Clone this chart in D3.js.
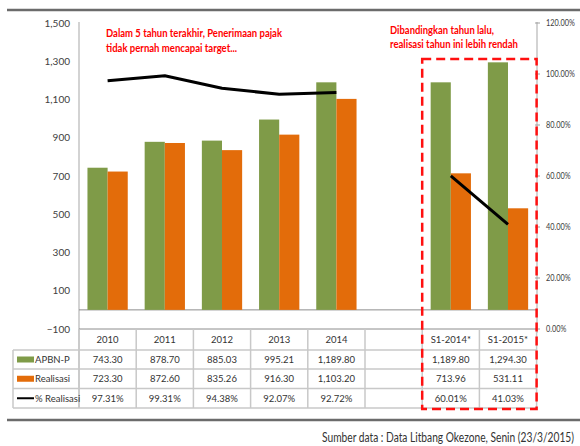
<!DOCTYPE html>
<html>
<head>
<meta charset="utf-8">
<script src="https://cdn.jsdelivr.net/npm/d3@7"></script>
<style>
  body { margin: 0; background: #fff; }
  svg { display: block; font-family: Lato, "Open Sans", sans-serif; }
</style>
</head>
<body>
<div id="chart"></div>
<script>
// data
const categories = ["2010", "2011", "2012", "2013", "2014", "", "S1-2014*", "S1-2015*"];
const apbnp = [743.30, 878.70, 885.03, 995.21, 1189.80, null, 1189.80, 1294.30];
const realisasi = [723.30, 872.60, 835.26, 916.30, 1103.20, null, 713.96, 531.11];
const pctRealisasi = [97.31, 99.31, 94.38, 92.07, 92.72, null, 60.01, 41.03];
const leftTicks = [-100, 100, 300, 500, 700, 900, 1100, 1300, 1500];
const rightTicks = [0, 20, 40, 60, 80, 100, 120];

const width = 580, height = 446;
const green = "#7f9b48", orange = "#e36c0a";

const svg = d3.select("#chart").append("svg")
  .attr("width", width)
  .attr("height", height);

const x = d3.scaleBand()
  .domain(d3.range(categories.length))
  .range([79, 536.6]);

const xSeries = d3.scaleBand()
  .domain(["apbnp", "realisasi"])
  .range([0, x.bandwidth()])
  .paddingOuter(0.42);

const yLeft = d3.scaleLinear().domain([-100, 1500]).range([329, 23]);
const yRight = d3.scaleLinear().domain([0, 120]).range([329, 23]);

const fmt2 = d3.format(",.2f");

// top rule
svg.append("line")
  .attr("x1", 7).attr("x2", width).attr("y1", 10).attr("y2", 10)
  .attr("stroke", "#6b6b6b").attr("stroke-width", 2.5);

// left axis
svg.append("line")
  .attr("x1", 79).attr("x2", 79).attr("y1", 22).attr("y2", 408)
  .attr("stroke", "#c4c4c4").attr("stroke-width", 1.5);

svg.append("g").selectAll("text")
  .data(leftTicks)
  .join("text")
  .attr("x", 70)
  .attr("y", d => yLeft(d))
  .attr("dy", "0.35em")
  .attr("text-anchor", "end")
  .attr("font-size", 10)
  .attr("fill", "#404040")
  .text(d => d3.format(",")(d));

// right axis
svg.append("line")
  .attr("x1", 537).attr("x2", 537).attr("y1", 22).attr("y2", 333)
  .attr("stroke", "#c4c4c4").attr("stroke-width", 1.5);

const rAxis = svg.append("g").selectAll("g")
  .data(rightTicks)
  .join("g")
  .attr("transform", d => `translate(537,${yRight(d)})`);
rAxis.append("line").attr("x1", -2).attr("x2", 3)
  .attr("stroke", "#a0a0a0").attr("stroke-width", 1);
rAxis.append("text")
  .attr("x", 9).attr("dy", "0.35em")
  .attr("font-size", 9.5)
  .attr("fill", "#404040")
  .attr("textLength", d => String(d).length * 4.3 + 16)
  .attr("lengthAdjust", "spacingAndGlyphs")
  .text(d => d.toFixed(2) + "%");

// zero line
svg.append("line")
  .attr("x1", 79).attr("x2", 537)
  .attr("y1", yLeft(0)).attr("y2", yLeft(0))
  .attr("stroke", "#8c8c8c").attr("stroke-width", 1);

// bars
const groups = svg.append("g").selectAll("g")
  .data(categories.map((c, i) => i).filter(i => apbnp[i] != null))
  .join("g")
  .attr("transform", i => `translate(${x(i)},0)`);

groups.append("rect")
  .attr("x", xSeries("apbnp"))
  .attr("width", xSeries.bandwidth())
  .attr("y", i => yLeft(apbnp[i]))
  .attr("height", i => yLeft(0) - yLeft(apbnp[i]))
  .attr("fill", green);

groups.append("rect")
  .attr("x", xSeries("realisasi"))
  .attr("width", xSeries.bandwidth())
  .attr("y", i => yLeft(realisasi[i]))
  .attr("height", i => yLeft(0) - yLeft(realisasi[i]))
  .attr("fill", orange);

// % realisasi line, broken at the empty slot
const line = d3.line()
  .defined(i => pctRealisasi[i] != null)
  .x(i => x(i) + x.bandwidth() / 2)
  .y(i => yRight(pctRealisasi[i]));

svg.append("path")
  .datum(d3.range(categories.length))
  .attr("d", line)
  .attr("fill", "none")
  .attr("stroke", "#000")
  .attr("stroke-width", 3)
  .attr("stroke-linejoin", "round");

// data table
const rowTops = [329, 350, 369, 388.5, 408];
const table = svg.append("g");
const border = "#c8c8c8";

// horizontal rules
table.append("line")
  .attr("x1", 79).attr("x2", 537).attr("y1", rowTops[0]).attr("y2", rowTops[0])
  .attr("stroke", "#8c8c8c").attr("stroke-width", 1);
rowTops.slice(1).forEach(y => {
  table.append("line")
    .attr("x1", 13).attr("x2", 537).attr("y1", y).attr("y2", y)
    .attr("stroke", border).attr("stroke-width", 1.5);
});
// vertical rules
d3.range(categories.length + 1).forEach(i => {
  const xx = i < categories.length ? x(i) : x.range()[1];
  table.append("line")
    .attr("x1", xx).attr("x2", xx).attr("y1", rowTops[0]).attr("y2", rowTops[4])
    .attr("stroke", border).attr("stroke-width", 1.5);
});
table.append("line")
  .attr("x1", 13).attr("x2", 13).attr("y1", rowTops[1]).attr("y2", rowTops[4])
  .attr("stroke", border).attr("stroke-width", 1.5);

const rows = [
  categories,
  apbnp.map(v => v == null ? "" : fmt2(v)),
  realisasi.map(v => v == null ? "" : fmt2(v)),
  pctRealisasi.map(v => v == null ? "" : v.toFixed(2) + "%")
];

rows.forEach((row, r) => {
  table.append("g").selectAll("text")
    .data(row)
    .join("text")
    .attr("x", (d, i) => x(i) + x.bandwidth() / 2)
    .attr("y", (rowTops[r] + rowTops[r + 1]) / 2)
    .attr("dy", "0.35em")
    .attr("text-anchor", "middle")
    .attr("font-size", 9.5)
    .attr("fill", "#333")
    .text(d => d);
});

// legend keys in the table
const legendRows = [
  { name: "APBN-P", type: "rect", color: green },
  { name: "Realisasi", type: "rect", color: orange },
  { name: "% Realisasi", type: "line", color: "#000" }
];
legendRows.forEach((d, k) => {
  const cy = (rowTops[k + 1] + rowTops[k + 2]) / 2;
  if (d.type === "rect") {
    table.append("rect")
      .attr("x", 17).attr("y", cy - 3).attr("width", 17).attr("height", 6)
      .attr("fill", d.color);
  } else {
    table.append("line")
      .attr("x1", 17).attr("x2", 34).attr("y1", cy).attr("y2", cy)
      .attr("stroke", d.color).attr("stroke-width", 2);
  }
  table.append("text")
    .attr("x", 35).attr("y", cy).attr("dy", "0.35em")
    .attr("font-size", 9.5)
    .attr("fill", "#333")
    .text(d.name);
});

// red dashed highlight box around the semester columns
svg.append("rect")
  .attr("x", x(6)).attr("y", 59)
  .attr("width", x.range()[1] - x(6)).attr("height", 350)
  .attr("fill", "none")
  .attr("stroke", "#ff1010")
  .attr("stroke-width", 2.5)
  .attr("stroke-dasharray", "9,5");

// annotations
const notes = [
  { text: "Dalam 5 tahun terakhir, Penerimaan pajak", x: 106, y: 33, w: 176 },
  { text: "tidak pernah mencapai target...", x: 106, y: 48.5, w: 131 },
  { text: "Dibandingkan tahun lalu,", x: 390, y: 30, w: 104 },
  { text: "realisasi tahun ini lebih rendah", x: 390, y: 44.5, w: 128 }
];
svg.append("g").selectAll("text")
  .data(notes)
  .join("text")
  .attr("x", d => d.x)
  .attr("y", d => d.y)
  .attr("dy", "0.35em")
  .attr("font-size", 11)
  .attr("font-weight", "bold")
  .attr("fill", "#ff0000")
  .attr("textLength", d => d.w)
  .attr("lengthAdjust", "spacingAndGlyphs")
  .text(d => d.text);

// bottom rule and source
svg.append("line")
  .attr("x1", 7).attr("x2", width).attr("y1", 420).attr("y2", 420)
  .attr("stroke", "#6b6b6b").attr("stroke-width", 2.5);

svg.append("text")
  .attr("x", 574).attr("y", 438).attr("dy", "0.35em")
  .attr("text-anchor", "end")
  .attr("font-size", 12.5)
  .attr("fill", "#333")
  .attr("textLength", 252)
  .attr("lengthAdjust", "spacingAndGlyphs")
  .text("Sumber data : Data Litbang Okezone, Senin (23/3/2015)");
</script>
</body>
</html>
